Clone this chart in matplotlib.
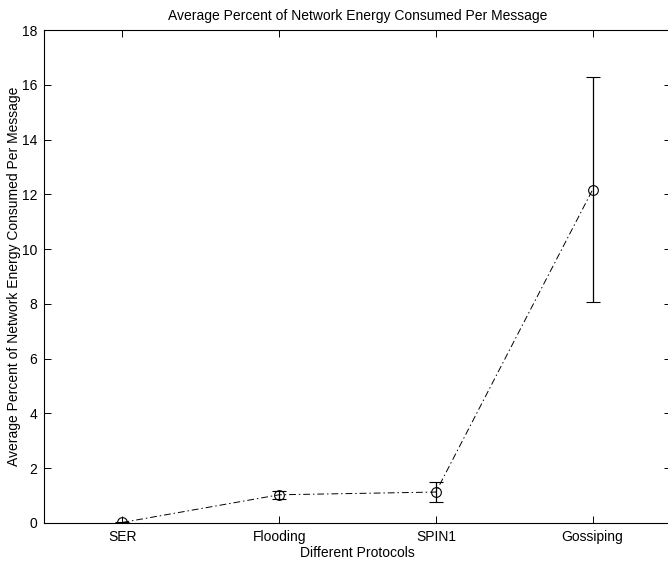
import matplotlib
matplotlib.use("Agg")
import matplotlib.pyplot as plt

protocols = ["SER", "Flooding", "SPIN1", "Gossiping"]
energy_pct = [0.02, 1.03, 1.13, 12.17]
energy_err = [0.03, 0.15, 0.35, 4.1]

plt.rcParams["font.family"] = ["Liberation Sans", "DejaVu Sans"]
plt.rcParams["font.size"] = 10

fig = plt.figure(figsize=(6.68, 5.63), dpi=100)
ax = fig.add_axes([44 / 668, 40 / 563, 627 / 668, 493 / 563])

x = range(1, len(protocols) + 1)
ax.errorbar(x, energy_pct, yerr=energy_err, fmt="o", color="black",
            mfc="none", ms=7, mew=0.8, elinewidth=0.9, capsize=5, capthick=0.9)
ax.plot(x, energy_pct, linestyle=(0, (7, 3, 1.5, 3)), color="black", linewidth=0.7)

ax.set_xlim(0.5, 4.5)
ax.set_ylim(0, 18)
ax.set_yticks(range(0, 19, 2))
ax.set_xticks(list(x))
ax.set_xticklabels(protocols)
ax.tick_params(direction="in", top=True, right=True, length=5, width=0.7,
               labelsize=10, pad=5)
for s in ax.spines.values():
    s.set_linewidth(0.8)

ax.set_xlabel("Different Protocols", fontsize=10, labelpad=1.5)
ax.set_ylabel("Average Percent of Network Energy Consumed Per Message", fontsize=10, labelpad=0.5)
ax.set_title("Average Percent of Network Energy Consumed Per Message", fontsize=10, pad=7)

fig.savefig("out.png", dpi=100)
